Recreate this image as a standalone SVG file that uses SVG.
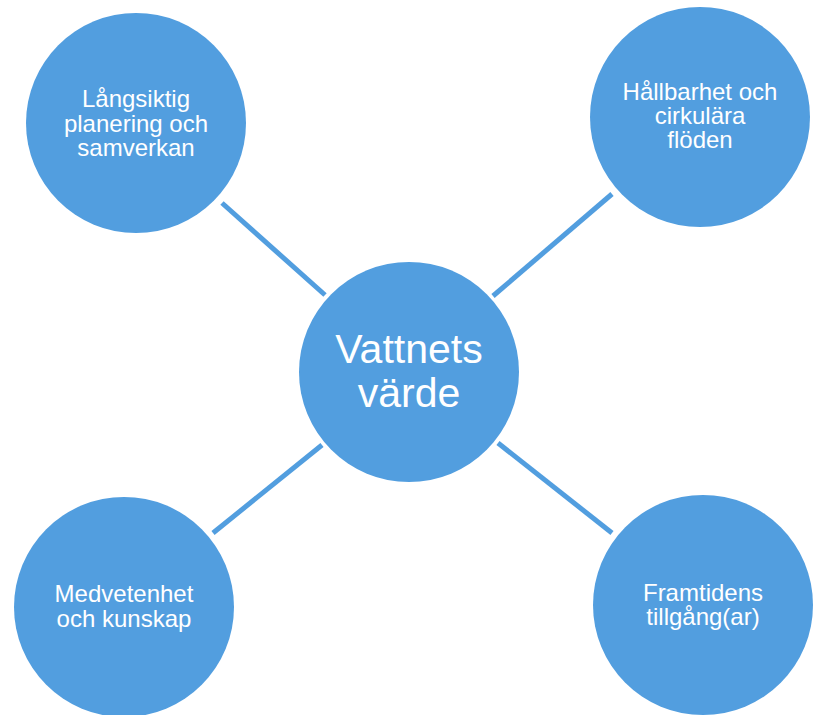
<svg xmlns="http://www.w3.org/2000/svg" width="818" height="715" viewBox="0 0 818 715">
<style>
.node{fill:#529EDF}
.lbl{font-family:"Liberation Sans",Arial,sans-serif;fill:#ffffff;text-anchor:middle;font-size:24px}
.big{font-size:41px}
.conn line{stroke:#529EDF;stroke-width:5}
</style>
<rect width="818" height="715" fill="#ffffff"/>
<g id="connectors" class="conn">
<line x1="222" y1="203" x2="325" y2="295"/>
<line x1="612" y1="194" x2="493" y2="296"/>
<line x1="213" y1="533" x2="322" y2="445"/>
<line x1="612" y1="533" x2="498" y2="443"/>
</g>
<g id="center">
<circle class="node" cx="409" cy="372" r="110"/>
<text class="lbl big" x="409" y="363">Vattnets</text>
<text class="lbl big" x="409" y="407">värde</text>
</g>
<g id="top-left">
<circle class="node" cx="136" cy="123" r="110"/>
<text class="lbl" x="136" y="107">Långsiktig</text>
<text class="lbl" x="136" y="132">planering och</text>
<text class="lbl" x="136" y="156">samverkan</text>
</g>
<g id="top-right">
<circle class="node" cx="700" cy="117" r="110"/>
<text class="lbl" x="700" y="100">Hållbarhet och</text>
<text class="lbl" x="700" y="124">cirkulära</text>
<text class="lbl" x="700" y="148">flöden</text>
</g>
<g id="bottom-left">
<circle class="node" cx="124" cy="607" r="110"/>
<text class="lbl" x="124" y="602">Medvetenhet</text>
<text class="lbl" x="124" y="627">och kunskap</text>
</g>
<g id="bottom-right">
<circle class="node" cx="703" cy="605" r="110"/>
<text class="lbl" x="703" y="601">Framtidens</text>
<text class="lbl" x="703" y="625">tillgång(ar)</text>
</g>
</svg>
